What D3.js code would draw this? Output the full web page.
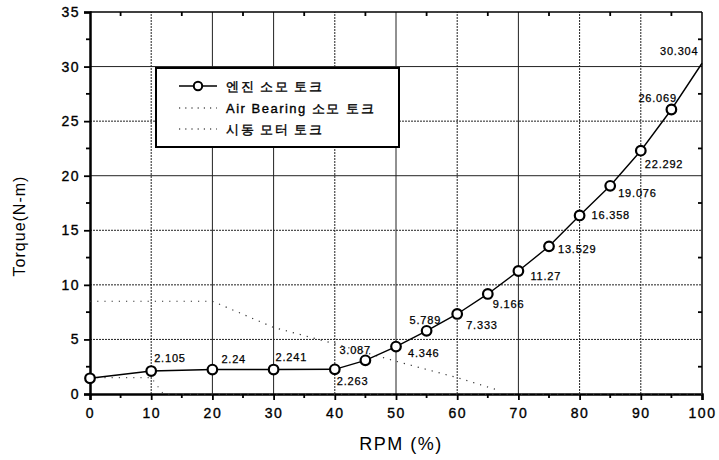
<!DOCTYPE html>
<html>
<head>
<meta charset="utf-8">
<script src="https://cdn.jsdelivr.net/npm/d3@7"></script>
<style>
  body { margin: 0; background: #fff; }
  text { font-family: "Liberation Sans", Arial, sans-serif; fill: #000; stroke: #000; stroke-width: 0.35px; }
  text.title { stroke: none; }
</style>
</head>
<body>
<svg id="chart" width="719" height="460"></svg>
<script>
// engine consumption torque (RPM %, N-m)
const engineRpm = [0, 10, 20, 30, 40, 45, 50, 55, 60, 65, 70, 75, 80, 85, 90, 95, 100];
const engineTorque = [1.44, 2.105, 2.24, 2.241, 2.263, 3.087, 4.346, 5.789, 7.333, 9.166, 11.27, 13.529, 16.358, 19.076, 22.292, 26.069, 30.304];
// air bearing consumption torque
const airRpm = [0, 10, 12, 100];
const airTorque = [1.5, 1.5, 0, 0];
// starter motor torque
const starterRpm = [0, 20, 25, 30, 40, 50, 60, 67];
const starterTorque = [8.5, 8.5, 7.3, 6.1, 4.6, 3.0, 1.5, 0.3];

const xTicks = [0, 10, 20, 30, 40, 50, 60, 70, 80, 90, 100];
const yTicks = [0, 5, 10, 15, 20, 25, 30, 35];
const legendLabels = ["엔진 소모 토크", "Air Bearing 소모 토크", "시동 모터 토크"];

// label placement relative to each point [dx, dy]
const labelOffsets = [null, [3, -9], [9, -7], [2, -9], [2, 16], [-26, -6], [12, 10], [-17, -7],
  [9, 15], [5, 14], [12, 9], [9, 7], [12, 4], [8, 11], [4, 17], [-33, -7], [-42, -8]];

const svg = d3.select("#chart");
const margin = { left: 90, right: 17, top: 12, bottom: 66 };
const W = 719, H = 460;

const x = d3.scaleLinear().domain([0, 100]).range([margin.left, W - margin.right]);
const y = d3.scaleLinear().domain([0, 35]).range([H - margin.bottom, margin.top]);

// gridlines
const dottedX = [10, 40, 60, 80, 90];
const dottedY = [5, 10, 15, 25];
svg.append("g").selectAll("line")
  .data(xTicks.filter(d => d > 0 && d < 100))
  .join("line")
  .attr("x1", d => x(d)).attr("x2", d => x(d))
  .attr("y1", y(0)).attr("y2", y(35))
  .attr("stroke", "#222")
  .attr("stroke-width", 1)
  .attr("stroke-dasharray", d => dottedX.includes(d) ? "2,1" : null);
svg.append("g").selectAll("line")
  .data(yTicks.filter(d => d > 0 && d < 35))
  .join("line")
  .attr("x1", x(0)).attr("x2", x(100))
  .attr("y1", d => y(d)).attr("y2", d => y(d))
  .attr("stroke", "#222")
  .attr("stroke-width", 1)
  .attr("stroke-dasharray", d => dottedY.includes(d) ? "2,1" : null);

// axes
const xAxis = d3.axisBottom(x).tickValues(xTicks).tickSize(6).tickPadding(5);
const yAxis = d3.axisLeft(y).tickValues(yTicks).tickSize(6).tickPadding(4);

const gx = svg.append("g").attr("transform", `translate(0,${y(0)})`).call(xAxis);
const gy = svg.append("g").attr("transform", `translate(${x(0)},0)`).call(yAxis);
[gx, gy].forEach(g => {
  g.select(".domain").attr("stroke", "#000").attr("stroke-width", 2.5);
  g.selectAll(".tick line").attr("stroke", "#000").attr("stroke-width", 1.8);
  g.selectAll(".tick text")
    .attr("font-size", 14)
    .attr("letter-spacing", 1.5)
    .attr("font-family", "Liberation Sans, Arial, sans-serif")
    .attr("fill", "#000");
});
gx.selectAll(".tick text").attr("dy", "0.9em");

// minor ticks
const minorX = d3.range(5, 100, 10);
const minorY = d3.range(2.5, 35, 5);
svg.append("g").selectAll("line").data(minorX).join("line")
  .attr("x1", d => x(d)).attr("x2", d => x(d))
  .attr("y1", y(0)).attr("y2", y(0) + 4)
  .attr("stroke", "#000").attr("stroke-width", 1.8);
svg.append("g").selectAll("line").data(minorY).join("line")
  .attr("x1", x(0) - 4).attr("x2", x(0))
  .attr("y1", d => y(d)).attr("y2", d => y(d))
  .attr("stroke", "#000").attr("stroke-width", 1.8);
// top and right frame with inward minor ticks
svg.append("line").attr("x1", x(0)).attr("x2", x(100)).attr("y1", y(35)).attr("y2", y(35))
  .attr("stroke", "#000").attr("stroke-width", 1.5);
svg.append("line").attr("x1", x(100)).attr("x2", x(100)).attr("y1", y(0)).attr("y2", y(35))
  .attr("stroke", "#000").attr("stroke-width", 1.5);
svg.append("g").selectAll("line").data(minorX).join("line")
  .attr("x1", d => x(d)).attr("x2", d => x(d))
  .attr("y1", y(35)).attr("y2", y(35) + 4)
  .attr("stroke", "#000").attr("stroke-width", 1.8);
svg.append("g").selectAll("line").data(minorY).join("line")
  .attr("x1", x(100) - 4).attr("x2", x(100))
  .attr("y1", d => y(d)).attr("y2", d => y(d))
  .attr("stroke", "#000").attr("stroke-width", 1.8);

// axis titles
svg.append("text").attr("class", "title")
  .attr("x", (x(0) + x(100)) / 2 + 5).attr("y", 450)
  .attr("text-anchor", "middle")
  .attr("font-size", 18).attr("letter-spacing", 1.5)
  .text("RPM (%)");
svg.append("text").attr("class", "title")
  .attr("transform", `translate(25,${226}) rotate(-90)`)
  .attr("text-anchor", "middle")
  .attr("font-size", 16).attr("letter-spacing", 1)
  .text("Torque(N-m)");

// series
const line = d3.line().x(d => x(d[0])).y(d => y(d[1]));
const starter = starterRpm.map((r, i) => [r, starterTorque[i]]);
const air = airRpm.map((r, i) => [r, airTorque[i]]);
const engine = engineRpm.map((r, i) => [r, engineTorque[i]]);

svg.append("path").datum(starter).attr("d", line)
  .attr("fill", "none").attr("stroke", "#333").attr("stroke-width", 1.2)
  .attr("stroke-dasharray", "1.2,6");
svg.append("path").datum(air).attr("d", line)
  .attr("fill", "none").attr("stroke", "#555").attr("stroke-width", 1.2)
  .attr("stroke-dasharray", "1.2,6");

svg.append("path").datum(engine).attr("d", line)
  .attr("fill", "none").attr("stroke", "#000").attr("stroke-width", 1.4);

svg.append("g").selectAll("circle")
  .data(engine.filter(d => d[0] < 100))
  .join("circle")
  .attr("cx", d => x(d[0])).attr("cy", d => y(d[1]))
  .attr("r", 4.8)
  .attr("fill", "#fff").attr("stroke", "#000").attr("stroke-width", 2.2);

svg.append("g").selectAll("text")
  .data(engine.map((d, i) => ({ d, off: labelOffsets[i] })).filter(e => e.off))
  .join("text")
  .attr("x", e => x(e.d[0]) + e.off[0])
  .attr("y", e => y(e.d[1]) + e.off[1])
  .attr("font-size", 11).attr("letter-spacing", 0.8)
  .style("stroke-width", "0.25px")
  .text(e => String(e.d[1]));

// legend
const lg = svg.append("g").attr("transform", "translate(156,68)");
lg.append("rect").attr("width", 243).attr("height", 79)
  .attr("fill", "#fff").attr("stroke", "#000").attr("stroke-width", 2);
const rows = [18, 40, 61];
legendLabels.forEach((lab, i) => {
  const ry = rows[i];
  lg.append("line").attr("x1", 23).attr("x2", 61).attr("y1", ry).attr("y2", ry)
    .attr("stroke", "#000")
    .attr("stroke-width", i === 0 ? 1.4 : 1.2)
    .attr("stroke-dasharray", i === 0 ? null : "1.2,5");
  if (i === 0) {
    lg.append("circle").attr("cx", 42).attr("cy", ry).attr("r", 4.2)
      .attr("fill", "#fff").attr("stroke", "#000").attr("stroke-width", 2);
  }
  lg.append("text").attr("x", 70).attr("y", ry + 5)
    .attr("font-size", 13).attr("letter-spacing", 1.5)
    .attr("font-family", "Liberation Sans, 'Noto Sans CJK KR', sans-serif")
    .text(lab);
});
</script>
</body>
</html>
